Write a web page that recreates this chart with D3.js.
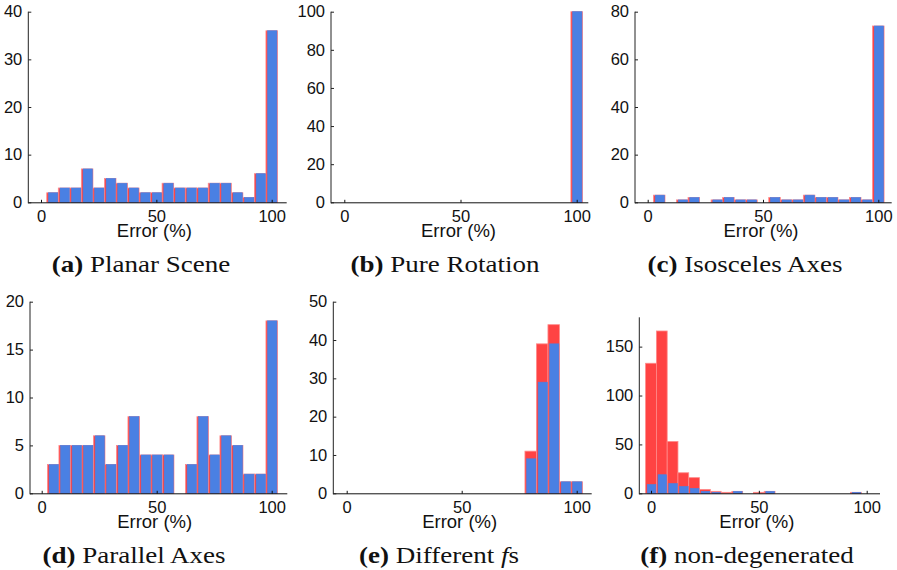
<!DOCTYPE html>
<html>
<head>
<meta charset="utf-8">
<script src="https://cdn.jsdelivr.net/npm/d3@7"></script>
<style>
  body { margin: 0; background: #fff; }
  svg { display: block; }
</style>
</head>
<body>
<svg id="fig" width="897" height="570"></svg>
<script>
// Histogram bin centres (error %, bin width 5)
const binCenters = d3.range(0, 101, 5);

// Counts per bin: red = first method, blue = second method
const planarRed   = [0,2,3,3,7,3,5,4,3,2,2,4,3,3,3,4,4,2,1,6,36];
const planarBlue  = [0,2,3,3,7,3,5,4,3,2,2,4,3,3,3,4,4,2,1,6,36];
const rotationRed  = [0,0,0,0,0,0,0,0,0,0,0,0,0,0,0,0,0,0,0,0,100];
const rotationBlue = [0,0,0,0,0,0,0,0,0,0,0,0,0,0,0,0,0,0,0,0,100];
const isoscelesRed  = [0,3,0,1,2,0,1,2,1,1,0,2,1,1,3,2,2,1,2,1,74];
const isoscelesBlue = [0,3,0,1,2,0,1,2,1,1,0,2,1,1,3,2,2,1,2,1,74];
const parallelRed  = [0,3,5,5,5,6,3,5,8,4,4,4,0,3,8,4,6,5,2,2,18];
const parallelBlue = [0,3,5,5,5,6,3,5,8,4,4,4,0,3,8,4,6,5,2,2,18];
const diffFsRed  = [0,0,0,0,0,0,0,0,0,0,0,0,0,0,0,0,11,39,44,3,3];
const diffFsBlue = [0,0,0,0,0,0,0,0,0,0,0,0,0,0,0,0,9,29,39,3,3];
const nonDegRed  = [133,166,53,21,16,4,2,1,2,0,1,2,0,0,0,0,0,0,0,1,0];
const nonDegBlue = [9,19,10,7,5,2,1,0,2,0,0,2,0,0,0,0,0,0,0,1,0];

// Axis tick values
const xTickValues = [0, 50, 100];
const yTicksA = [0, 10, 20, 30, 40];
const yTicksB = [0, 20, 40, 60, 80, 100];
const yTicksC = [0, 20, 40, 60, 80];
const yTicksD = [0, 5, 10, 15, 20];
const yTicksE = [0, 10, 20, 30, 40, 50];
const yTicksF = [0, 50, 100, 150];

// Caption parts: bold tag, plain text, optional italic symbol + suffix
const captionTags = ["(a)", "(b)", "(c)", "(d)", "(e)", "(f)"];
const captionTexts = ["Planar Scene", "Pure Rotation", "Isosceles Axes", "Parallel Axes", "Different ", "non-degenerated"];

const xLabel = "Error (%)";

const RED = "#ff4343";
const RED_EDGE = "#ff8a8a";
const BLUE = "#4a80e3";

// Panel frames in page pixels
const panels = [
  { red: planarRed,   blue: planarBlue,   yMax: 40,  yTicks: yTicksA, x0: 41,    x100: 271.7, left: 28.3,  right: 286.7, top: 11.7,  bottom: 202.3, capX: 141, capY: 272 },
  { red: rotationRed, blue: rotationBlue, yMax: 100, yTicks: yTicksB, x0: 344.3, x100: 576.7, left: 331,   right: 588.3, top: 11.7,  bottom: 202.3, capX: 445, capY: 272 },
  { red: isoscelesRed,blue: isoscelesBlue,yMax: 80,  yTicks: yTicksC, x0: 647.7, x100: 878.3, left: 635,   right: 891.7, top: 11.7,  bottom: 202.3, capX: 745, capY: 272 },
  { red: parallelRed, blue: parallelBlue, yMax: 20,  yTicks: yTicksD, x0: 41.7,  x100: 271.7, left: 30,    right: 287.3, top: 301.7, bottom: 493.3, capX: 134, capY: 563 },
  { red: diffFsRed,   blue: diffFsBlue,   yMax: 50,  yTicks: yTicksE, x0: 346.7, x100: 576.7, left: 333.3, right: 591.7, top: 301.7, bottom: 493.3, capX: 439, capY: 563 },
  { red: nonDegRed,   blue: nonDegBlue,   yMax: 180, yTicks: yTicksF, x0: 651,   x100: 866.7, left: 639.3, right: 880,   top: 317.3, bottom: 493.3, capX: 747, capY: 563 }
];

const svg = d3.select("#fig");
const sans = "'Liberation Sans', Arial, Helvetica, sans-serif";
const serif = "'Liberation Serif', 'Times New Roman', serif";

panels.forEach((p, i) => {
  const x = d3.scaleLinear().domain([0, 100]).range([p.x0, p.x100]);
  const y = d3.scaleLinear().domain([0, p.yMax]).range([p.bottom, p.top]);
  const g = svg.append("g");

  const redBins = binCenters.map((c, j) => ({ c, v: p.red[j] }));
  const blueBins = binCenters.map((c, j) => ({ c, v: p.blue[j] }));

  // red histogram: full-width bins
  g.selectAll("rect.red").data(redBins).join("rect")
    .attr("class", "red")
    .attr("x", d => x(d.c - 2.5))
    .attr("width", d => x(d.c + 2.5) - x(d.c - 2.5))
    .attr("y", d => y(d.v))
    .attr("height", d => y(0) - y(d.v))
    .attr("fill", RED)
    .attr("stroke", RED_EDGE)
    .attr("stroke-width", 0.8);

  // blue histogram: narrower bars on top
  g.selectAll("rect.blue").data(blueBins).join("rect")
    .attr("class", "blue")
    .attr("x", d => x(d.c - 1.75))
    .attr("width", d => x(d.c + 2.25) - x(d.c - 1.75))
    .attr("y", d => y(d.v))
    .attr("height", d => y(0) - y(d.v))
    .attr("fill", BLUE)
    .attr("stroke", BLUE)
    .attr("stroke-width", 0.6);

  // x axis (bottom line, inward ticks)
  const xAxis = d3.axisBottom(x).tickValues(xTickValues).tickSizeInner(-3).tickSizeOuter(0).tickPadding(7);
  const xg = g.append("g").attr("transform", `translate(0,${p.bottom + 0.5})`).call(xAxis);
  xg.select(".domain").remove();
  xg.append("line").attr("x1", p.left).attr("x2", p.right).attr("stroke", "#111").attr("stroke-width", 1);
  xg.selectAll(".tick line").attr("stroke", "#111");
  xg.selectAll(".tick text").attr("font-family", sans).attr("font-size", 16.5).attr("fill", "#111");

  // y axis (left line, inward ticks)
  const yAxis = d3.axisLeft(y).tickValues(p.yTicks).tickSizeInner(-3).tickSizeOuter(0).tickPadding(6);
  const yg = g.append("g").attr("transform", `translate(${p.left},0)`).call(yAxis);
  yg.select(".domain").remove();
  yg.append("line").attr("y1", p.top).attr("y2", p.bottom + 1).attr("stroke", "#222").attr("stroke-width", 1);
  yg.selectAll(".tick line").attr("stroke", "#222");
  yg.selectAll(".tick text").attr("font-family", sans).attr("font-size", 16.5).attr("fill", "#111");

  // axis title
  g.append("text")
    .attr("x", x(50) - 2)
    .attr("y", p.bottom + 34.5)
    .attr("text-anchor", "middle")
    .attr("font-family", sans)
    .attr("font-size", 18.5)
    .attr("fill", "#111")
    .text(xLabel);

  // sub-figure caption
  const cap = g.append("g").attr("transform", `translate(${p.capX},${p.capY}) scale(1.2,1)`)
    .append("text")
    .attr("text-anchor", "middle")
    .attr("font-family", serif)
    .attr("font-size", 22.5)
    .attr("fill", "#111");
  cap.append("tspan").attr("font-weight", "bold").text(captionTags[i]);
  cap.append("tspan").text(" " + captionTexts[i]);
  if (i === 4) {
    cap.append("tspan").attr("font-style", "italic").text("f");
    cap.append("tspan").text("s");
  }
});
</script>
</body>
</html>
